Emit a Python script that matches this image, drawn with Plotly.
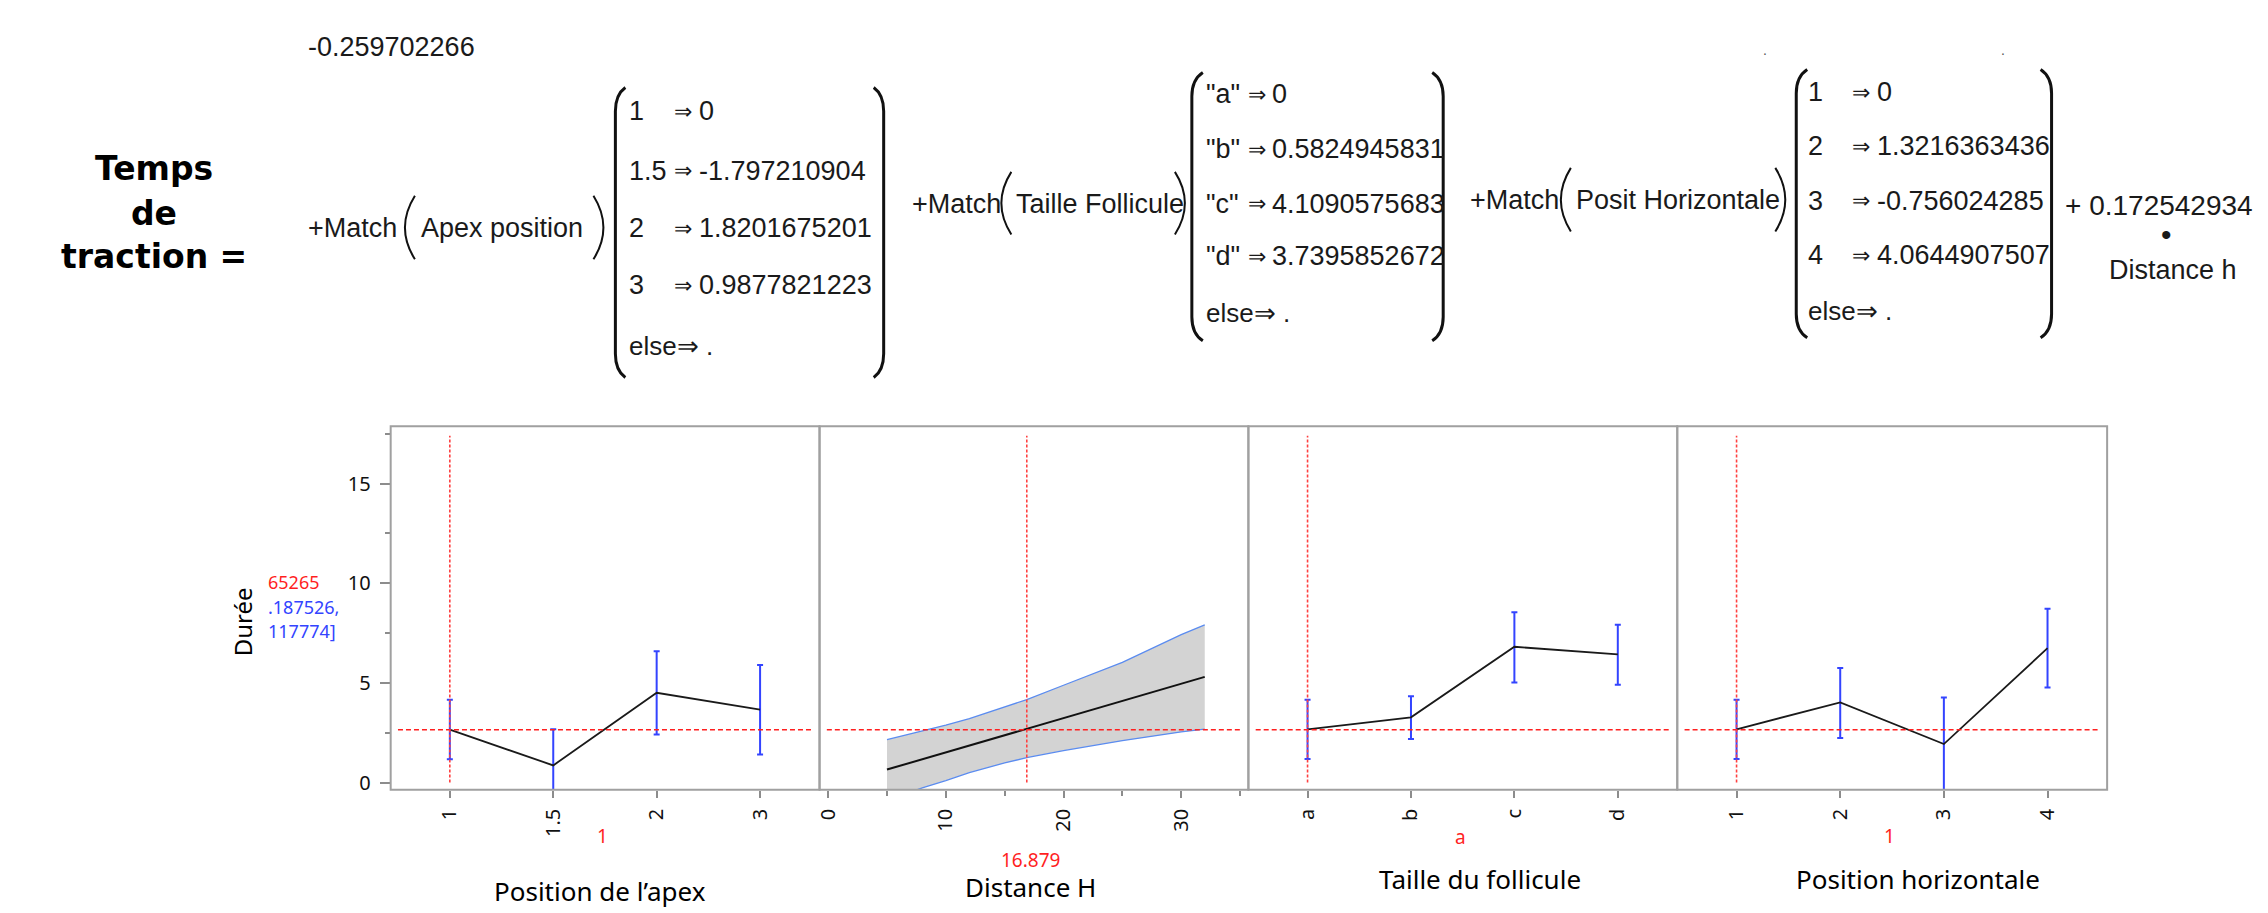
import plotly.graph_objects as go

W, H = 2268, 913

# ---------------- data ----------------
apex_levels = ["1", "1.5", "2", "3"]
apex_pred = [2.65, 0.86, 4.50, 3.66]
apex_upper = [4.15, 2.67, 6.58, 5.90]
apex_lower = [1.17, -0.95, 2.41, 1.41]

dist_x = [5, 32]
dist_pred = [0.65, 5.30]
band_x = [5, 8, 10, 12, 15, 16.88, 20, 25, 30, 32]
band_upper = [2.15, 2.57, 2.88, 3.20, 3.80, 4.16, 4.88, 6.03, 7.42, 7.91]
band_lower = [-0.90, -0.27, 0.10, 0.50, 0.98, 1.25, 1.60, 2.10, 2.54, 2.68]

taille_levels = ["a", "b", "c", "d"]
taille_pred = [2.67, 3.27, 6.81, 6.43]
taille_upper = [4.15, 4.33, 8.54, 7.92]
taille_lower = [1.18, 2.18, 5.02, 4.90]

horiz_levels = ["1", "2", "3", "4"]
horiz_pred = [2.67, 4.02, 1.93, 6.74]
horiz_upper = [4.15, 5.75, 4.27, 8.72]
horiz_lower = [1.18, 2.23, -0.41, 4.77]

current_settings = ["1", 16.879, "a", "1"]
current_labels = ["1", "16.879", "a", "1"]
current_pred = 2.65
ci_text = ["65265", ".187526,", "117774]"]

panel_titles = ["Position de l’apex", "Distance H", "Taille du follicule", "Position horizontale"]
y_title = "Durée"

intercept_text = "-0.259702266"
apex_terms = ["1", "1.5", "2", "3"]
apex_coefs = ["0", "-1.797210904", "1.8201675201", "0.9877821223"]
taille_terms = ['"a"', '"b"', '"c"', '"d"']
taille_coefs = ["0", "0.5824945831", "4.1090575683", "3.7395852672"]
horiz_terms = ["1", "2", "3", "4"]
horiz_coefs = ["0", "1.3216363436", "-0.756024285", "4.0644907507"]
slope_text = "0.172542934"

# ---------------- helpers ----------------
def fx(x):
    return x / W

def fy(y):
    return 1 - y / H

annotations = []
shapes = []

def txt(x, y, s, size, color="#1a1a1a", family="Liberation Sans", xanchor="left",
        yanchor="middle", angle=0):
    annotations.append(dict(x=fx(x), y=fy(y), xref="paper", yref="paper", text=s,
                            showarrow=False, xanchor=xanchor, yanchor=yanchor,
                            textangle=angle, font=dict(size=size, color=color, family=family)))

def big_bracket(x_in, x_out, y0, y1, r=24, w=3):
    p = (f"M {fx(x_in)},{fy(y0)} Q {fx(x_out)},{fy(y0 + r * 0.3)} {fx(x_out)},{fy(y0 + r)} "
         f"L {fx(x_out)},{fy(y1 - r)} Q {fx(x_out)},{fy(y1 - r * 0.3)} {fx(x_in)},{fy(y1)}")
    shapes.append(dict(type="path", path=p, xref="paper", yref="paper",
                       line=dict(color="#111111", width=w)))

def small_paren(x_end, x_bulge, y0, y1, w=2):
    cx = x_end + 2 * (x_bulge - x_end)
    p = f"M {fx(x_end)},{fy(y0)} Q {fx(cx)},{fy((y0 + y1) / 2)} {fx(x_end)},{fy(y1)}"
    shapes.append(dict(type="path", path=p, xref="paper", yref="paper",
                       line=dict(color="#111111", width=w)))

# ---------------- formula block ----------------
FS = 27
txt(301, 47, intercept_text, FS)

for s, yy in zip(["Temps", "de", "traction ="], [170, 215, 258]):
    txt(148, yy, "<b>" + s + "</b>", 33, "#000000", "DejaVu Sans", xanchor="center")

# Apex block
txt(301, 230, "+Match", FS)
small_paren(410, 400, 197, 261)
txt(414, 230, "Apex position", FS)
small_paren(589, 599, 197, 261)
big_bracket(621, 611, 88, 380)
big_bracket(870, 880, 88, 380)
for t, c, yy in zip(apex_terms, apex_coefs, [112, 172, 230, 287]):
    txt(623, yy, t, FS)
    txt(668, yy, "⇒", 22)
    txt(693, yy, c, FS)
txt(623, 348, "else⇒ .", FS - 1)

# Taille block
txt(906, 205, "+Match", FS)
small_paren(1008, 998, 173, 236)
txt(1011, 205, "Taille Follicule", FS)
small_paren(1172, 1182, 173, 236)
big_bracket(1200, 1189, 73, 343)
big_bracket(1430, 1441, 73, 343)
for t, c, yy in zip(taille_terms, taille_coefs, [95, 150, 205, 258]):
    txt(1201, yy, t, FS)
    txt(1243, yy, "⇒", 22)
    txt(1267, yy, c, FS)
txt(1201, 315, "else⇒ .", FS - 1)

# Horizontal block
txt(1466, 201, "+Match", FS)
small_paren(1569, 1559, 169, 233)
txt(1572, 201, "Posit Horizontale", FS)
small_paren(1774, 1784, 169, 233)
big_bracket(1806, 1795, 70, 340)
big_bracket(2040, 2051, 70, 340)
for t, c, yy in zip(horiz_terms, horiz_coefs, [93, 147, 202, 257]):
    txt(1805, yy, t, FS)
    txt(1849, yy, "⇒", 22)
    txt(1874, yy, c, FS)
txt(1805, 313, "else⇒ .", FS - 1)

txt(2062, 207, "+ " + slope_text, 28)
txt(2166, 236, "•", 30, xanchor="center")
txt(2173, 272, "Distance h", FS, xanchor="center")
txt(1764, 50, ".", 14, "#555555", xanchor="center")
txt(2002, 50, ".", 14, "#555555", xanchor="center")

# ---------------- chart ----------------
edges = [385.7, 815.7, 1245.7, 1675.7, 2106.7]
top_px, bot_px = 429, 795
y_range = [-0.364, 17.876]
cat_range = [-0.572, 3.575]

BLUE = "#3344ff"
RED = "#ff1f1f"
FRAME = "#a0a0a0"
TICKF = dict(family="Noto Sans", size=20, color="#111111")

fig = go.Figure()

def cat_trace(levels, pred, upper, lower, xa):
    fig.add_trace(go.Scatter(
        x=levels, y=pred, mode="lines", xaxis=xa, yaxis="y",
        line=dict(color="#1a1a1a", width=1.8),
        error_y=dict(type="data", symmetric=False,
                     array=[u - p for u, p in zip(upper, pred)],
                     arrayminus=[p - l for p, l in zip(pred, lower)],
                     color=BLUE, thickness=2, width=3),
        hoverinfo="skip"))

cat_trace(apex_levels, apex_pred, apex_upper, apex_lower, "x")

fig.add_trace(go.Scatter(x=band_x, y=band_upper, mode="lines", xaxis="x2", yaxis="y",
                         line=dict(color="#5b8cf0", width=1.3), hoverinfo="skip"))
fig.add_trace(go.Scatter(x=band_x, y=band_lower, mode="lines", xaxis="x2", yaxis="y",
                         fill="tonexty", fillcolor="#d3d3d3",
                         line=dict(color="#5b8cf0", width=1.3), hoverinfo="skip"))
fig.add_trace(go.Scatter(x=dist_x, y=dist_pred, mode="lines", xaxis="x2", yaxis="y",
                         line=dict(color="#111111", width=2), hoverinfo="skip"))

cat_trace(taille_levels, taille_pred, taille_upper, taille_lower, "x3")
cat_trace(horiz_levels, horiz_pred, horiz_upper, horiz_lower, "x4")

axis_names = ["x", "x2", "x3", "x4"]
cat_lists = [apex_levels, None, taille_levels, horiz_levels]
layout_axes = {}
for i, (an, cl) in enumerate(zip(axis_names, cat_lists)):
    key = "xaxis" if an == "x" else "xaxis" + an[1:]
    common = dict(domain=[fx(edges[i]), fx(edges[i + 1])], anchor="y",
                  showgrid=False, zeroline=False, showline=False,
                  ticks="outside", ticklen=7, tickwidth=1.5, tickcolor="#8c8c8c",
                  tickangle=-90, tickfont=TICKF, ticklabelstandoff=3)
    if cl is not None:
        common.update(type="category", categoryorder="array", categoryarray=cl,
                      range=cat_range)
    else:
        common.update(type="linear", range=[-0.73, 35.71], tick0=0, dtick=10,
                      minor=dict(dtick=5, ticks="outside", ticklen=5,
                                 tickcolor="#8c8c8c", showgrid=False))
    layout_axes[key] = common

fig.update_layout(
    width=W, height=H, margin=dict(l=0, r=0, t=0, b=0),
    paper_bgcolor="white", plot_bgcolor="white", showlegend=False,
    yaxis=dict(domain=[fy(bot_px), fy(top_px)], range=y_range, anchor="x",
               showgrid=False, zeroline=False, showline=False,
               tick0=0, dtick=5, ticks="outside", ticklen=10, tickwidth=1.5,
               tickcolor="#8c8c8c", tickfont=TICKF, ticklabelstandoff=5,
               minor=dict(dtick=2.5, ticks="outside", ticklen=5,
                          tickcolor="#8c8c8c", showgrid=False)),
    **layout_axes)

# reference lines and frames
for i, an in enumerate(axis_names):
    cl = cat_lists[i]
    xpos = cl.index(current_settings[i]) if cl is not None else current_settings[i]
    shapes.append(dict(type="line", xref=f"{an} domain", yref="y",
                       x0=0.017, x1=0.982, y0=current_pred, y1=current_pred,
                       line=dict(color=RED, width=1.6, dash="5px,3px")))
    shapes.append(dict(type="line", xref=an, yref="y",
                       x0=xpos, x1=xpos, y0=0, y1=17.4,
                       line=dict(color="#ff4040", width=1.6, dash="3px,2px")))
    shapes.append(dict(type="rect", xref="paper", yref="paper",
                       x0=fx(edges[i]), x1=fx(edges[i + 1]), y0=fy(bot_px), y1=fy(top_px),
                       line=dict(color=FRAME, width=2)))

# chart texts
title_pos = [(596, 897), (1027, 893), (1478, 885), (1917, 885)]
for (x, y), t in zip(title_pos, panel_titles):
    txt(x, y, t, 26, "#000000", "Noto Sans", xanchor="center")
cur_pos = [(598, 842), (1027, 866), (1458, 843), (1888, 842)]
for (x, y), t in zip(cur_pos, current_labels):
    txt(x, y, t, 19, RED, "Noto Sans", xanchor="center")

txt(238, 626, y_title, 24, "#000000", "Noto Sans", xanchor="center", angle=-90)
txt(261, 586, ci_text[0], 18, RED, "Noto Sans")
txt(261, 611, ci_text[1], 18, BLUE, "Noto Sans")
txt(261, 635, ci_text[2], 18, BLUE, "Noto Sans")

fig.update_layout(annotations=annotations, shapes=shapes)

fig.write_html("out.html", config={"displayModeBar": False},
               post_script="document.body.style.margin='0';document.body.style.overflow='hidden';")
